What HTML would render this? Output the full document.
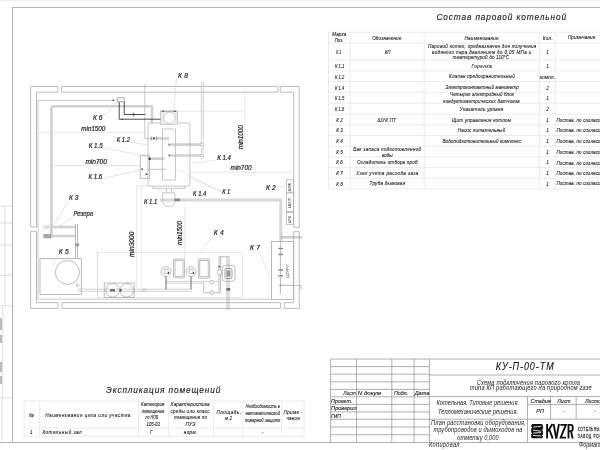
<!DOCTYPE html>
<html><head><meta charset="utf-8">
<style>
html,body{margin:0;padding:0;background:#fff;width:600px;height:450px;overflow:hidden}
svg{display:block;filter:grayscale(1)}
text{font-family:"Liberation Sans",sans-serif;font-style:italic;fill:#2a2a2a}
.f{fill:none;stroke:#b4b4b4;stroke-width:1.1}
.w{fill:none;stroke:#b4b4b4;stroke-width:0.9}
.g{fill:none;stroke:#b0b0b0;stroke-width:1.6}
.d{fill:none;stroke:#3a3a3a;stroke-width:0.8}
.t{fill:none;stroke:#d4d4d4;stroke-width:0.6}
.tg{fill:none;stroke:#dedede;stroke-width:0.6}
.tb{fill:none;stroke:#9a9a9a;stroke-width:0.8}
.lb{font-size:6.6px;fill:#1e1e1e;stroke:#1e1e1e;stroke-width:0.2}
.sm{font-size:4.6px;fill:#1a1a1a;stroke:#1a1a1a;stroke-width:0.1}
.ti{font-size:10px;fill:#161616;stroke:#161616;stroke-width:0.12}
.tt{font-size:5px;fill:#111;stroke:#111;stroke-width:0.08}
.tm{font-size:5.7px;fill:#1a1a1a}
.ku{font-size:10.3px;fill:#161616;stroke:#161616;stroke-width:0.1}
</style></head><body>
<svg width="600" height="450" viewBox="0 0 600 450">
<!-- top faint band -->
<line x1="0" y1="0.8" x2="600" y2="0.8" stroke="#ececec" stroke-width="1"/>
<!-- outer frame -->
<polyline class="f" points="600,7.5 12.5,7.5 12.5,442.5"/>
<line class="f" x1="0" y1="442.5" x2="600" y2="442.5"/>

<!-- left strip -->
<g fill="none" stroke="#cfcfcf" stroke-width="0.7">
<line x1="0" y1="206" x2="12.5" y2="206"/>
<line x1="5" y1="206" x2="5" y2="305.6"/>
<line x1="2.7" y1="305.6" x2="2.7" y2="397.8"/>
<line x1="2" y1="397.8" x2="2" y2="442.5"/>
<line x1="0" y1="223" x2="12.5" y2="223"/>
<line x1="0" y1="245" x2="12.5" y2="245"/>
<line x1="0" y1="275.5" x2="12.5" y2="275.5"/>
<line x1="0" y1="305.6" x2="12.5" y2="305.6"/>
<line x1="0" y1="397.8" x2="12.5" y2="397.8"/>
</g>
<g fill="#bbb"><rect x="0" y="318" width="2" height="12"/><rect x="0" y="335" width="2" height="8"/><rect x="0" y="362" width="2" height="10"/><rect x="0" y="376" width="2" height="8"/></g>

<!-- ============ SPEC TABLE ============ -->
<text class="ti" transform="translate(436.5,19.6) scale(1,1.2)" x="0" y="0" style="font-size:8.3px" textLength="129.5" lengthAdjust="spacing">Состав паровой котельной</text>
<g class="tg">
<line x1="328.5" y1="32.2" x2="600" y2="32.2"/>
<line x1="328.5" y1="43" x2="600" y2="43"/>
<line x1="328.5" y1="60.1" x2="600" y2="60.1"/>
<line x1="328.5" y1="70.9" x2="600" y2="70.9"/>
<line x1="328.5" y1="81.6" x2="600" y2="81.6"/>
<line x1="328.5" y1="92.4" x2="600" y2="92.4"/>
<line x1="328.5" y1="103.2" x2="600" y2="103.2"/>
<line x1="328.5" y1="114.1" x2="600" y2="114.1"/>
<line x1="328.5" y1="124.8" x2="600" y2="124.8"/>
<line x1="328.5" y1="135.5" x2="600" y2="135.5"/>
<line x1="328.5" y1="146.2" x2="600" y2="146.2"/>
<line x1="328.5" y1="156.9" x2="600" y2="156.9"/>
<line x1="328.5" y1="167.6" x2="600" y2="167.6"/>
<line x1="328.5" y1="178.2" x2="600" y2="178.2"/>
<line x1="328.5" y1="188.9" x2="600" y2="188.9"/>
<line x1="328.5" y1="32.2" x2="328.5" y2="188.9"/>
<line x1="350.2" y1="32.2" x2="350.2" y2="188.9"/>
<line x1="424.2" y1="32.2" x2="424.2" y2="188.9"/>
<line x1="539.6" y1="32.2" x2="539.6" y2="188.9"/>
<line x1="555.4" y1="32.2" x2="555.4" y2="188.9"/>
</g>
<g class="sm">
<text transform="translate(332.2,36.4) scale(1,1.2)" x="0" y="0" textLength="14.1" lengthAdjust="spacing">Марка</text>
<text transform="translate(334.7,42.3) scale(1,1.2)" x="0" y="0" textLength="8.6" lengthAdjust="spacingAndGlyphs">Поз.</text>
<text transform="translate(372.2,39.8) scale(1,1.2)" x="0" y="0" textLength="29.1" lengthAdjust="spacing">Обозначение</text>
<text transform="translate(464.6,40.3) scale(1,1.2)" x="0" y="0" textLength="33.9" lengthAdjust="spacing">Наименование</text>
<text transform="translate(542.8,40.2) scale(1,1.2)" x="0" y="0" textLength="10.0" lengthAdjust="spacing">Кол.</text>
<text transform="translate(567.9,39.4) scale(1,1.2)" x="0" y="0" textLength="27.4" lengthAdjust="spacing">Примечание</text>
<text transform="translate(336.3,53.6) scale(1,1.2)" x="0" y="0" textLength="5.0" lengthAdjust="spacingAndGlyphs">К 1</text>
<text transform="translate(384.7,53.6) scale(1,1.2)" x="0" y="0" textLength="5.8" lengthAdjust="spacingAndGlyphs">КП</text>
<text transform="translate(427.9,48.1) scale(1,1.2)" x="0" y="0" textLength="108.3" lengthAdjust="spacing">Паровой котел, предназначен для получения</text>
<text transform="translate(432,53.5) scale(1,1.2)" x="0" y="0" textLength="99.3" lengthAdjust="spacing">водяного пара давлением до 0,05 МПа и</text>
<text transform="translate(452.6,59.3) scale(1,1.2)" x="0" y="0" textLength="56.5" lengthAdjust="spacing">температурой до 110°С</text>
<text transform="translate(471.4,68.0) scale(1,1.2)" x="0" y="0" textLength="20.3" lengthAdjust="spacing">Горелка</text>
<text transform="translate(449.1,78.4) scale(1,1.2)" x="0" y="0" textLength="65.8" lengthAdjust="spacing">Клапан предохранительный</text>
<text transform="translate(445.3,88.6) scale(1,1.2)" x="0" y="0" textLength="73.5" lengthAdjust="spacing">Электроконтактный манометр</text>
<text transform="translate(450.1,96.4) scale(1,1.2)" x="0" y="0" textLength="63.9" lengthAdjust="spacing">Четырех электродный блок</text>
<text transform="translate(443.3,102.6) scale(1,1.2)" x="0" y="0" textLength="76.4" lengthAdjust="spacing">кондуктометрических датчиков</text>
<text transform="translate(459.8,110.9) scale(1,1.2)" x="0" y="0" textLength="43.5" lengthAdjust="spacing">Указатель уровня</text>
<text transform="translate(452,121.6) scale(1,1.2)" x="0" y="0" textLength="59" lengthAdjust="spacing">Щит управления котлом</text>
<text transform="translate(457.8,132.2) scale(1,1.2)" x="0" y="0" textLength="47.4" lengthAdjust="spacing">Насос питательный</text>
<text transform="translate(442.4,142.8) scale(1,1.2)" x="0" y="0" textLength="78.3" lengthAdjust="spacing">Водоподготовительный комплекс</text>
<text transform="translate(377.6,122.2) scale(1,1.2)" x="0" y="0" textLength="18.6" lengthAdjust="spacing">ШУК ПТ</text>
<text transform="translate(353.2,150.6) scale(1,1.2)" x="0" y="0" textLength="67.9" lengthAdjust="spacing">Бак запаса подготовленной</text>
<text transform="translate(382,157.2) scale(1,1.2)" x="0" y="0" textLength="10.7" lengthAdjust="spacingAndGlyphs">воды</text>
<text transform="translate(357.1,163.9) scale(1,1.2)" x="0" y="0" textLength="60.5" lengthAdjust="spacing">Охладитель отбора проб</text>
<text transform="translate(356.2,174.6) scale(1,1.2)" x="0" y="0" textLength="62.2" lengthAdjust="spacing">Узел учета расхода газа</text>
<text transform="translate(369.6,184.9) scale(1,1.2)" x="0" y="0" textLength="35.5" lengthAdjust="spacing">Труба дымовая</text>
<text transform="translate(334.9,68.0) scale(1,1.2)" x="0" y="0" textLength="9.3" lengthAdjust="spacingAndGlyphs">К 1.1</text>
<text transform="translate(334.9,78.9) scale(1,1.2)" x="0" y="0" textLength="9.3" lengthAdjust="spacingAndGlyphs">К 1.2</text>
<text transform="translate(334.9,89.5) scale(1,1.2)" x="0" y="0" textLength="9.3" lengthAdjust="spacingAndGlyphs">К 1.4</text>
<text transform="translate(334.9,100.4) scale(1,1.2)" x="0" y="0" textLength="9.3" lengthAdjust="spacingAndGlyphs">К 1.5</text>
<text transform="translate(334.9,111.3) scale(1,1.2)" x="0" y="0" textLength="9.3" lengthAdjust="spacingAndGlyphs">К 1.6</text>
<text transform="translate(336.2,121.9) scale(1,1.2)" x="0" y="0" textLength="6.6" lengthAdjust="spacing">К 2</text>
<text transform="translate(336.2,132.3) scale(1,1.2)" x="0" y="0" textLength="6.6" lengthAdjust="spacing">К 3</text>
<text transform="translate(336.2,142.6) scale(1,1.2)" x="0" y="0" textLength="6.6" lengthAdjust="spacing">К 4</text>
<text transform="translate(336.2,153.6) scale(1,1.2)" x="0" y="0" textLength="6.6" lengthAdjust="spacing">К 5</text>
<text transform="translate(336.2,164.4) scale(1,1.2)" x="0" y="0" textLength="6.6" lengthAdjust="spacing">К 6</text>
<text transform="translate(336.2,174.8) scale(1,1.2)" x="0" y="0" textLength="6.6" lengthAdjust="spacing">К 7</text>
<text transform="translate(336.2,185.6) scale(1,1.2)" x="0" y="0" textLength="6.6" lengthAdjust="spacing">К 8</text>
<text x="547.6" y="53.6" text-anchor="middle">1</text>
<text x="547.6" y="68.0" text-anchor="middle">1</text>
<text transform="translate(539.8,78.9) scale(1,1.2)" x="0" y="0" textLength="15.4" lengthAdjust="spacing">компл.</text>
<text x="547.6" y="89.5" text-anchor="middle">2</text>
<text x="547.6" y="100.4" text-anchor="middle">1</text>
<text x="547.6" y="111.3" text-anchor="middle">2</text>
<text x="547.6" y="121.9" text-anchor="middle">1</text>
<text x="547.6" y="132.3" text-anchor="middle">1</text>
<text x="547.6" y="142.6" text-anchor="middle">1</text>
<text x="547.6" y="153.6" text-anchor="middle">1</text>
<text x="547.6" y="164.4" text-anchor="middle">1</text>
<text x="547.6" y="174.8" text-anchor="middle">1</text>
<text x="547.6" y="185.6" text-anchor="middle">1</text>
<text transform="translate(556.4,122.2) scale(1,1.2)" x="0" y="0" textLength="58" lengthAdjust="spacing">Постав. по согласованию</text>
<text transform="translate(556.4,131.9) scale(1,1.2)" x="0" y="0" textLength="58" lengthAdjust="spacing">Постав. по согласованию</text>
<text transform="translate(556.4,143.1) scale(1,1.2)" x="0" y="0" textLength="58" lengthAdjust="spacing">Постав. по согласованию</text>
<text transform="translate(556.4,153.8) scale(1,1.2)" x="0" y="0" textLength="58" lengthAdjust="spacing">Постав. по согласованию</text>
<text transform="translate(556.4,164.5) scale(1,1.2)" x="0" y="0" textLength="58" lengthAdjust="spacing">Постав. по согласованию</text>
<text transform="translate(556.4,175.1) scale(1,1.2)" x="0" y="0" textLength="58" lengthAdjust="spacing">Постав. по согласованию</text>
<text transform="translate(556.4,185.3) scale(1,1.2)" x="0" y="0" textLength="58" lengthAdjust="spacing">Постав. по согласованию</text>
</g>

<!-- ============ EXPLICATION ============ -->
<text class="ti" transform="translate(106.1,392.9) scale(1,1.2)" x="0" y="0" style="font-size:8.3px" textLength="114.2" lengthAdjust="spacing">Экспликация помещений</text>
<g class="tg">
<line x1="24.2" y1="401" x2="304" y2="401"/>
<line x1="24.2" y1="428" x2="304" y2="428"/>
<line x1="24.2" y1="436.3" x2="304" y2="436.3"/>
<line x1="24.2" y1="401" x2="24.2" y2="436.3"/>
<line x1="39.7" y1="401" x2="39.7" y2="436.3"/>
<line x1="138.5" y1="401" x2="138.5" y2="436.3"/>
<line x1="168.7" y1="401" x2="168.7" y2="436.3"/>
<line x1="213.6" y1="401" x2="213.6" y2="436.3"/>
<line x1="243" y1="401" x2="243" y2="436.3"/>
<line x1="281.6" y1="401" x2="281.6" y2="436.3"/>
<line x1="304" y1="401" x2="304" y2="436.3"/>
</g>
<g class="sm">
<text transform="translate(28.8,416.8) scale(1,1.2)" x="0" y="0" textLength="5.8" lengthAdjust="spacing">№</text>
<text transform="translate(45.3,416.8) scale(1,1.2)" x="0" y="0" textLength="85.1" lengthAdjust="spacing">Наименование цеха или участка</text>
<text transform="translate(42.4,434.4) scale(1,1.2)" x="0" y="0" textLength="39.2" lengthAdjust="spacing">Котельный зал</text>
<text transform="translate(141.1,405.6) scale(1,1.2)" x="0" y="0" textLength="23.2" lengthAdjust="spacingAndGlyphs">Категория</text>
<text transform="translate(141.7,412.7) scale(1,1.2)" x="0" y="0" textLength="22.6" lengthAdjust="spacingAndGlyphs">помещения</text>
<text transform="translate(145.6,418.9) scale(1,1.2)" x="0" y="0" textLength="12.4" lengthAdjust="spacingAndGlyphs">по НПБ</text>
<text transform="translate(146.5,426) scale(1,1.2)" x="0" y="0" textLength="13.3" lengthAdjust="spacingAndGlyphs">105-03</text>
<text transform="translate(170.5,405.6) scale(1,1.2)" x="0" y="0" textLength="39.1" lengthAdjust="spacing">Характеристика</text>
<text transform="translate(170.5,412.7) scale(1,1.2)" x="0" y="0" textLength="39.1" lengthAdjust="spacing">среды или класс</text>
<text transform="translate(174,419.3) scale(1,1.2)" x="0" y="0" textLength="33" lengthAdjust="spacing">помещения по</text>
<text transform="translate(185.6,426) scale(1,1.2)" x="0" y="0" textLength="9.8" lengthAdjust="spacing">ПУЭ</text>
<text transform="translate(183.8,433.7) scale(1,1.2)" x="0" y="0" textLength="13.4" lengthAdjust="spacing">норм.</text>
<text transform="translate(216.4,413.6) scale(1,1.2)" x="0" y="0" textLength="24.6" lengthAdjust="spacing">Площадь,</text>
<text transform="translate(225,420) scale(1,1.2)" x="0" y="0" textLength="7" lengthAdjust="spacing">м2</text>
<text transform="translate(245.6,408.4) scale(1,1.2)" x="0" y="0" textLength="34.4" lengthAdjust="spacingAndGlyphs">Необходимость в</text>
<text transform="translate(245.6,415) scale(1,1.2)" x="0" y="0" textLength="34.4" lengthAdjust="spacingAndGlyphs">автоматической</text>
<text transform="translate(245,422.4) scale(1,1.2)" x="0" y="0" textLength="35.4" lengthAdjust="spacingAndGlyphs">пожарной защите</text>
<text transform="translate(283.6,413.6) scale(1,1.2)" x="0" y="0" textLength="18.8" lengthAdjust="spacing">Приме -</text>
<text transform="translate(286.4,420) scale(1,1.2)" x="0" y="0" textLength="13.6" lengthAdjust="spacing">чание</text>
<text x="31.4" y="434.4" text-anchor="middle">1</text>
<text x="151.3" y="433.7" text-anchor="middle">Г</text>
<text x="262.6" y="433.6" text-anchor="middle">-</text>
</g>

<g class="tb">
<line x1="330.6" y1="359.0" x2="429.4" y2="359.0"/>
<line x1="330.6" y1="366.6" x2="429.4" y2="366.6"/>
<line x1="330.6" y1="374.2" x2="429.4" y2="374.2"/>
<line x1="330.6" y1="381.8" x2="429.4" y2="381.8"/>
<line x1="330.6" y1="389.4" x2="429.4" y2="389.4"/>
<line x1="330.6" y1="396.8" x2="429.4" y2="396.8"/>
<line x1="330.6" y1="404.4" x2="429.4" y2="404.4"/>
<line x1="330.6" y1="411.9" x2="429.4" y2="411.9"/>
<line x1="330.6" y1="419.3" x2="429.4" y2="419.3"/>
<line x1="330.6" y1="427.0" x2="429.4" y2="427.0"/>
<line x1="330.6" y1="434.7" x2="429.4" y2="434.7"/>
<line x1="330.6" y1="359" x2="330.6" y2="442.5"/>
<line x1="356.6" y1="359" x2="356.6" y2="442.5"/>
<line x1="391.8" y1="359" x2="391.8" y2="442.5"/>
<line x1="414.1" y1="359" x2="414.1" y2="442.5"/>
<line x1="429.4" y1="359" x2="429.4" y2="442.5"/>
<line x1="429.4" y1="359" x2="600" y2="359"/>
<line x1="429.4" y1="375" x2="600" y2="375"/>
<line x1="429.4" y1="396.6" x2="600" y2="396.6"/>
<line x1="527.5" y1="404.6" x2="600" y2="404.6"/>
<line x1="429.4" y1="419.2" x2="600" y2="419.2"/>
<line x1="527.5" y1="396.6" x2="527.5" y2="442.5"/>
<line x1="550.6" y1="396.6" x2="550.6" y2="419.2"/>
<line x1="576.2" y1="396.6" x2="576.2" y2="419.2"/>
</g>
<g class="tt">
<text class="sm" x="343.3" y="395.4" textLength="12.4" lengthAdjust="spacingAndGlyphs">Лист</text>
<text class="sm" x="357.8" y="395.4" textLength="23.1" lengthAdjust="spacingAndGlyphs">N докум</text>
<text class="sm" x="393.9" y="395.4" textLength="14.2" lengthAdjust="spacingAndGlyphs">Подп.</text>
<text class="sm" x="414.7" y="395.4" textLength="14.7" lengthAdjust="spacingAndGlyphs">Дата</text>
<text class="sm" x="331.1" y="403.2" textLength="21.2" lengthAdjust="spacingAndGlyphs">Проект.</text>
<text class="sm" x="331.1" y="410.1" textLength="25.5" lengthAdjust="spacingAndGlyphs">Проверил</text>
<text class="sm" x="331.1" y="417.6" textLength="9.9" lengthAdjust="spacingAndGlyphs">ГИП</text>
<text class="sm" x="530.6" y="402.75" textLength="20.0" lengthAdjust="spacingAndGlyphs">Стадия</text>
<text class="sm" x="557.3" y="402.75" textLength="13.3" lengthAdjust="spacingAndGlyphs">Лист</text>
<text class="sm" x="585" y="402.75" textLength="19" lengthAdjust="spacingAndGlyphs">Листов</text>
<text class="sm" x="536.3" y="412.75" textLength="7.5" lengthAdjust="spacingAndGlyphs">РП</text>
<text x="564.4" y="412.5" text-anchor="middle">-</text>
<text x="595" y="412.5" text-anchor="middle">-</text>
</g>
<g class="tm">
<text class="tm" transform="translate(476.8,384.5) scale(1,1.2)" x="0" y="0" textLength="103.2" lengthAdjust="spacing">Схема подключения парового котла</text>
<text class="tm" transform="translate(469.8,389.9) scale(1,1.2)" x="0" y="0" textLength="121.9" lengthAdjust="spacing">типа КП работающего на природном газе</text>
<text class="tm" transform="translate(436.5,405.4) scale(1,1.2)" x="0" y="0" textLength="82.5" lengthAdjust="spacingAndGlyphs">Котельная. Типовые решения.</text>
<text class="tm" transform="translate(437.9,413.5) scale(1,1.2)" x="0" y="0" textLength="80.2" lengthAdjust="spacing">Тепломеханические решения.</text>
<text class="tm" transform="translate(431,424.6) scale(1,1.2)" x="0" y="0" textLength="94.8" lengthAdjust="spacing">План расстановки оборудования,</text>
<text class="tm" transform="translate(433.4,432.2) scale(1,1.2)" x="0" y="0" textLength="89.0" lengthAdjust="spacing">трубопроводов и дымоходов на</text>
<text class="tm" transform="translate(457.3,439.9) scale(1,1.2)" x="0" y="0" textLength="41.3" lengthAdjust="spacing">отметку 0,000</text>
<text class="tm" transform="translate(428.9,447.2) scale(1,1.2)" x="0" y="0" textLength="30.6" lengthAdjust="spacing">Копировал</text>
<text class="tm" transform="translate(579,447.2) scale(1,1.2)" x="0" y="0" textLength="21.5" lengthAdjust="spacingAndGlyphs">Формат</text>
</g>
<text class="ku" transform="translate(495.8,370) scale(1,1.2)" x="0" y="0" style="font-size:9px" textLength="57.9" lengthAdjust="spacing">КУ-П-00-ТМ</text>
<g fill="none" stroke="#111" stroke-width="2.5" stroke-linecap="round" stroke-linejoin="round">
<rect x="531.2" y="424.1" width="11.7" height="14.2" rx="1.6" fill="#111" stroke="none"/>
<g stroke="#fff" stroke-width="0.85" stroke-linecap="round"><path d="M533.6,427.1 L540.8,426.3 M533.4,430.1 L540.8,431.2 M533.6,433 L540.8,432.6 M533.4,435.5 L540.8,435.9"/></g>
<g stroke="#fff" stroke-width="1.2" stroke-linecap="round"><path d="M531,427.6 h0.6 M531,433.4 h0.6 M543.1,430 h-0.6 M543.1,435.4 h-0.6"/></g>
</g>
<g fill="none" stroke="#111" stroke-width="1.9" stroke-linejoin="miter">
<path d="M547.1,423.9 V438.6 M552.4,423.9 L548,431.2 M549.3,429.2 L552.7,438.6"/>
<path d="M553.6,423.9 L556.3,438.6 L559,423.9"/>
<path d="M560.3,424.85 H565.9 L560.7,437.65 H566"/>
<path d="M568.5,438.6 V424.85 H571 Q572.7,424.85 572.7,427 V429 Q572.7,431.1 571,431.1 H568.5 M571,431.1 L572.7,438.6"/>
</g>
<text transform="translate(577.8,430.8) scale(1,1.95)" x="0" y="0" textLength="24.5" lengthAdjust="spacing" style="font-style:normal;font-size:3.2px;fill:#555;stroke:#555;stroke-width:0.22">КОТЕЛЬНЫЙ</text>
<text transform="translate(577.8,437.8) scale(1,1.95)" x="0" y="0" textLength="33" lengthAdjust="spacing" style="font-style:normal;font-size:3.2px;fill:#555;stroke:#555;stroke-width:0.22">ЗАВОД РОССИИ</text>

<!--PLAN-->
<!-- ===== PLAN: walls ===== -->
<g fill="none" stroke="#b8b8b8" stroke-width="0.95">
<path d="M57.8,86.4 H30.6 V227 M30.6,231.3 V308.4 H58 M62,308.4 H280.7 M284.3,308.4 H299.3 V231.7 M299.3,227.3 V86.4 H280.3 M278,86.4 H61.5"/>
<path d="M57.8,92.2 H36.5 V227 M36.5,231.3 V302.7 H58 M62,302.7 H280.7 M284.3,302.7 H293.7 V231.7 M293.7,227.3 V92.2 H280.3 M278,92.2 H61.5"/>
<path d="M57.8,86.4 V92.2 M61.5,86.4 V92.2 M278,86.4 V92.2 M280.3,86.4 V92.2 M58,302.7 V308.4 M62,302.7 V308.4 M280.7,302.7 V308.4 M284.3,302.7 V308.4 M293.7,227.3 H299.3 M293.7,231.7 H299.3 M30.6,227 H36.5 M30.6,231.3 H36.5"/>
</g>
<!-- thin pipe near walls -->
<g fill="none" stroke="#c4c4c4" stroke-width="0.9">
<path d="M113,100.3 H38 V299.2 H271.5"/>
</g>
<circle cx="113.4" cy="100.3" r="0.9" fill="#444"/>
<!-- thick gray pipes -->
<g fill="none" stroke="#d0d0d0" stroke-width="2.6" stroke-linejoin="round">
<path d="M152,123 V106.2 H54 Q51.4,106.2 51.4,108.8 V238"/>
<path d="M157,138.5 H169"/>
<path d="M168,144.6 H201.5 M168,155.5 H201.5"/>
<path d="M150,158.7 H164.5"/>
<path d="M160,199.9 H280.8 V241.5" stroke="#d8d8d8" stroke-width="3"/>
<path d="M51,227 H76 M51,236 H76"/>
</g>
<!-- dimension / light lines -->
<g fill="none" stroke="#d8d8d8" stroke-width="0.6">
<path d="M33.5,132.7 H145"/>
<path d="M51.5,165.5 H140"/>
<path d="M190,172.2 H293.7"/>
<path d="M177.5,111.2 H245"/>
<path d="M245,89 V151"/>
<path d="M184.7,206.3 V259"/>
<path d="M136.7,186 V288 M136.7,186 H147"/>
<path d="M141.3,186 V288"/>
<path d="M97.5,252.5 V297"/>
<path d="M178,170 L222,192"/>
<path d="M190,177 L222,192.5"/>
<path d="M192.5,163 L216.5,160"/>
</g>
<!-- boiler -->
<g fill="none" stroke="#bcbcbc" stroke-width="0.85">
<path d="M160.5,123 H148 V186.1 H189.9 V123 H177.5"/>
<path d="M152.7,186.1 V188.3 H184.9 V186.1"/>
<rect x="162.4" y="129" width="13" height="51"/>
<path d="M144.8,84 V138.5 H150.5"/>
<path d="M201.3,82 V158.5 M203.3,82 V158.5" stroke="#c8c8c8"/>
<path d="M166.5,188.3 V191.7 M171.5,188.3 V191.7"/>
<path d="M162.7,192.8 H174.9 V199 Q174.9,206.7 168.8,206.7 Q162.7,206.7 162.7,199 Z"/>
</g>
<rect x="200.6" y="143.4" width="3" height="2.4" fill="#fff" stroke="#bbb" stroke-width="0.6"/>
<rect x="200.6" y="154.3" width="3" height="2.4" fill="#fff" stroke="#bbb" stroke-width="0.6"/>
<rect x="174.3" y="198.4" width="6" height="2.8" rx="1" fill="#888" stroke="none"/>
<!-- chimney K8 -->
<rect x="160.5" y="111" width="17" height="13.5" fill="#ececec" stroke="#c4c4c4" stroke-width="0.8"/>
<circle cx="169.5" cy="117.8" r="5.6" fill="#fff" stroke="#c4c4c4" stroke-width="0.8"/>
<path d="M161.5,111.2 H176.5" stroke="#666" stroke-width="0.5"/>
<path d="M161.5,111.2 l2.2,-0.8 v1.6 Z M176.5,111.2 l-2.2,-0.8 v1.6 Z" fill="#333"/>
<!-- K6 dark lines -->
<g fill="none" stroke="#2e2e2e" stroke-width="0.85">
<path d="M124.2,101.5 V114.5 H145"/>
<path d="M119.2,101.5 V119.2 H160.5"/>
</g>
<rect x="117" y="97.8" width="7.6" height="4" rx="1.5" fill="#fff" stroke="#777" stroke-width="0.7"/>
<path d="M133.7,112.7 V116.3" stroke="#333" stroke-width="0.8"/>
<path d="M121,119.2 l1.6,-0.8 v1.6 Z" fill="#333"/>
<!-- (ж) -->
<path d="M151.2,136.6 V140.3 M156.3,136.6 V140.3" stroke="#555" stroke-width="0.8"/>
<circle cx="153.8" cy="138.4" r="1.1" fill="#333"/>
<circle cx="169.3" cy="144.7" r="0.8" fill="#777"/>
<circle cx="169.3" cy="155.4" r="0.8" fill="#777"/>
<!-- level sensor box -->
<rect x="140.2" y="155.3" width="9.4" height="23" fill="none" stroke="#aaa" stroke-width="0.8"/>
<circle cx="149.6" cy="158.7" r="1.2" fill="#333"/>
<circle cx="142.1" cy="169.2" r="0.9" fill="#444"/>
<circle cx="146.6" cy="174.2" r="0.9" fill="#444"/>
<path d="M146.5,169.3 H166" stroke="#bbb" stroke-width="0.9"/>
<!-- K5 tank -->
<g fill="none" stroke="#aaa" stroke-width="0.8">
<rect x="40" y="258.5" width="41.3" height="36"/>
<circle cx="67.4" cy="272.4" r="12"/>
<circle cx="77.5" cy="285.3" r="1.3"/>
<path d="M75.5,224 V258.5 M77.5,224 V258.5"/>
</g>
<rect x="75" y="243.5" width="4" height="2.5" fill="#999"/>
<!-- pumps K3 -->
<rect x="43.3" y="225" width="6.4" height="4" fill="#e0e0e0"/>
<rect x="43.3" y="234" width="6.7" height="4.3" fill="#aaa"/><rect x="50" y="233.5" width="0.8" height="5" fill="#888"/>
<!-- main bottom pipe -->
<g fill="none" stroke="#bdbdbd" stroke-width="0.7">
<path d="M77.4,289.2 H192 M77.4,291.3 H192"/>
<path d="M166,281.4 H219 M166,283.2 H203"/>
</g>
<!-- K4 zone -->
<rect x="97.5" y="252.5" width="144.8" height="44.8" fill="none" stroke="#d8d8d8" stroke-width="0.6"/>
<g fill="none" stroke="#aaa" stroke-width="0.75">
<rect x="104.2" y="283" width="30" height="14.5"/>
<circle cx="112.5" cy="290.3" r="6.8"/>
<circle cx="126.7" cy="290.3" r="6.8"/>
<rect x="173.5" y="259" width="11" height="19" rx="1"/>
<rect x="175" y="260.5" width="8" height="16"/>
<rect x="198.3" y="259" width="11.4" height="19.3" rx="1"/>
<rect x="199.8" y="260.5" width="8.4" height="16.3"/>
<circle cx="166" cy="271.5" r="5"/>
<circle cx="191" cy="271.5" r="5"/>
<path d="M166,276 V290 M191,276 V290"/>
<path d="M203.7,282 V292.7 H220.3"/>
<path d="M219,256.7 V292.7 M220.6,256.7 V292.7 M227,256.7 V310 M229,256.7 V310 M219,256.7 H229"/>
<circle cx="211.7" cy="282.2" r="1.8" fill="#fff"/>
<circle cx="211.7" cy="292.7" r="1.8" fill="#fff"/>
<circle cx="219.6" cy="272.3" r="2.3" fill="#fff"/>
<rect x="222.3" y="265.3" width="12.7" height="16" rx="3"/>
<circle cx="144.2" cy="290.3" r="1.5" fill="#fff"/>
</g>
<rect x="164" y="269" width="4" height="4.5" fill="none" stroke="#888" stroke-width="0.5"/>
<rect x="189" y="269" width="4" height="4.5" fill="none" stroke="#888" stroke-width="0.5"/>
<circle cx="168.6" cy="273" r="0.9" fill="#444"/><circle cx="193.6" cy="273" r="0.9" fill="#444"/>
<path d="M166,276.5 V289 M191,276.5 V289" stroke="#8a8a8a" stroke-width="1"/>
<rect x="225" y="268.5" width="7" height="10" rx="1.5" fill="none" stroke="#888" stroke-width="0.8"/><rect x="226.5" y="270.5" width="4" height="6" fill="#999"/>
<rect x="226.3" y="288" width="4" height="2.7" fill="#777"/>
<rect x="218.3" y="266" width="2" height="1.3" fill="#555"/>
<rect x="110" y="289" width="5" height="2.5" fill="#777"/>
<rect x="119.5" y="289" width="2" height="2.5" fill="#555"/>
<!-- K2 boxes -->
<g fill="none" stroke="#aaa" stroke-width="0.7">
<rect x="286.3" y="179.8" width="7.2" height="12.4"/>
<rect x="286.3" y="193" width="7.2" height="18.7"/>
<rect x="286.3" y="212.6" width="7.2" height="11.7"/>
</g>
<g style="font-family:'Liberation Sans',sans-serif;font-size:3px;fill:#666">
<text transform="translate(291,191) rotate(-90)" textLength="8" lengthAdjust="spacingAndGlyphs">ШУК</text>
<text transform="translate(291,208) rotate(-90)" textLength="10" lengthAdjust="spacingAndGlyphs">ШУК</text>
<text transform="translate(291,223) rotate(-90)" textLength="7" lengthAdjust="spacingAndGlyphs">ШУК</text>
</g>
<!-- K7 -->
<rect x="271.5" y="241.5" width="22" height="58" fill="none" stroke="#aaa" stroke-width="0.8"/>
<g fill="none" stroke="#aaa" stroke-width="0.8">
<path d="M280.4,241.5 V294 M280.4,285.4 H300.9 V289.7 M280.3,236.7 H302.3 M280.3,238 H302.3"/>
</g>
<g fill="#888"><rect x="278.3" y="247.8" width="4.7" height="1.4"/><rect x="278.3" y="253.8" width="4.7" height="1.4"/><rect x="278.3" y="269.2" width="4.7" height="1.4"/><rect x="278.3" y="275" width="4.7" height="1.4"/><circle cx="280.4" cy="285.4" r="0.9"/></g>
<text transform="translate(289,278) rotate(-90)" textLength="14" lengthAdjust="spacingAndGlyphs" style="font-size:3.6px;fill:#555">ШУРГ</text>
<!-- leaders -->
<g fill="none" stroke="#c8c8c8" stroke-width="0.5">
<path d="M103.5,116.5 L116,102.5"/>
<path d="M102.7,147.5 L149.5,157"/>
<path d="M130.5,142 L148,145"/>
<path d="M103,178.6 L142,169.5"/>
<path d="M69,200.5 L53.5,225"/>
<path d="M74,216 L58.5,227"/>
<path d="M176.5,79 L173.5,111"/>
<path d="M259,251 L271.5,281"/>
<path d="M213.5,235.5 L200,252.5"/>
<path d="M58.5,254 L52.5,265.5"/>
<path d="M265.5,187 L286,186"/>
</g>

<!-- labels -->
<g class="lb">
<text transform="translate(178,78.3) scale(1,1.09)" x="0" y="0" textLength="10.0" lengthAdjust="spacing">К 8</text>
<text transform="translate(93,120.3) scale(1,1.09)" x="0" y="0" textLength="9.4" lengthAdjust="spacing">К 6</text>
<text transform="translate(81.3,131) scale(1,1.09)" x="0" y="0" textLength="24.0" lengthAdjust="spacingAndGlyphs">min1500</text>
<text transform="translate(116.7,141.6) scale(1,1.09)" x="0" y="0" textLength="13.3" lengthAdjust="spacingAndGlyphs">К 1.2</text>
<text transform="translate(88.7,148.3) scale(1,1.09)" x="0" y="0" textLength="14.0" lengthAdjust="spacingAndGlyphs">К 1.5</text>
<text transform="translate(85.4,163.5) scale(1,1.09)" x="0" y="0" textLength="21.4" lengthAdjust="spacingAndGlyphs">min700</text>
<text transform="translate(88.4,178.6) scale(1,1.09)" x="0" y="0" textLength="13.9" lengthAdjust="spacingAndGlyphs">К 1.6</text>
<text transform="translate(69.1,200) scale(1,1.09)" x="0" y="0" textLength="9.3" lengthAdjust="spacingAndGlyphs">К 3</text>
<text transform="translate(73.4,215.8) scale(1,1.09)" x="0" y="0" textLength="19.6" lengthAdjust="spacingAndGlyphs">Резерв</text>
<text transform="translate(217.25,159.75) scale(1,1.09)" x="0" y="0" textLength="13.75" lengthAdjust="spacingAndGlyphs">К 1.4</text>
<text transform="translate(230.6,169.75) scale(1,1.09)" x="0" y="0" textLength="20.9" lengthAdjust="spacingAndGlyphs">min700</text>
<text transform="translate(222.25,193.75) scale(1,1.09)" x="0" y="0" textLength="8.0" lengthAdjust="spacingAndGlyphs">К 1</text>
<text transform="translate(193.1,196) scale(1,1.09)" x="0" y="0" textLength="13.15" lengthAdjust="spacingAndGlyphs">К 1.4</text>
<text transform="translate(144,203.7) scale(1,1.09)" x="0" y="0" textLength="13.3" lengthAdjust="spacingAndGlyphs">К 1.1</text>
<text transform="translate(266,189.9) scale(1,1.09)" x="0" y="0" textLength="9.6" lengthAdjust="spacing">К 2</text>
<text transform="translate(58.75,253.7) scale(1,1.09)" x="0" y="0" textLength="10.0" lengthAdjust="spacing">К 5</text>
<text transform="translate(213.75,235) scale(1,1.09)" x="0" y="0" textLength="10.0" lengthAdjust="spacing">К 4</text>
<text transform="translate(250,250) scale(1,1.09)" x="0" y="0" textLength="10.0" lengthAdjust="spacing">К 7</text>
<text transform="translate(134.4,257) rotate(-90) scale(1,1.09)" x="0" y="0" textLength="25.3" lengthAdjust="spacingAndGlyphs">min3000</text>
<text transform="translate(182.3,245) rotate(-90) scale(1,1.09)" x="0" y="0" textLength="24.0" lengthAdjust="spacingAndGlyphs">min1500</text>
<text transform="translate(242.5,149.3) rotate(-90) scale(1,1.09)" x="0" y="0" textLength="24.0" lengthAdjust="spacingAndGlyphs">min1000</text>
</g>

</svg>
</body></html>
